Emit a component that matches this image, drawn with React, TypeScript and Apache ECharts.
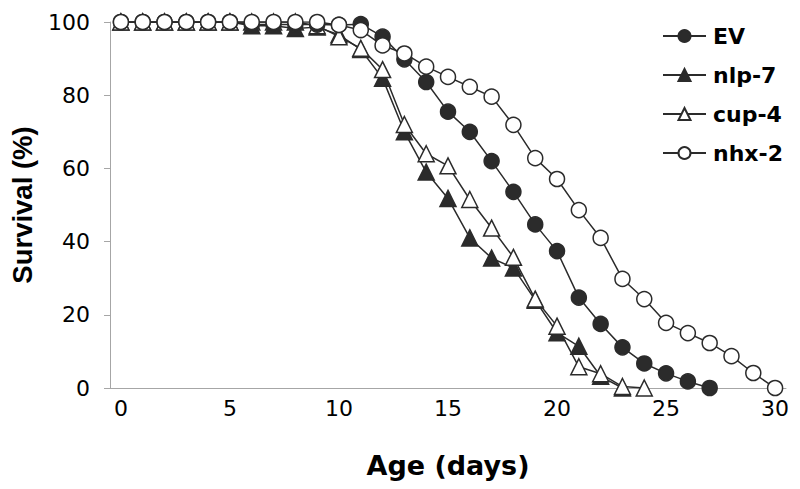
import React, { useEffect, useRef } from "react";
import * as echarts from "echarts";

const days: string[] = Array.from({ length: 31 }, (_, i) => String(i));

const evValues: number[] = [
  100, 100, 100, 100, 100, 100, 99.3, 99.3, 99.3, 99.3, 99.2, 99.4, 96, 89.8,
  83.6, 75.5, 70, 62, 53.6, 44.7, 37.4, 24.7, 17.5, 11.1, 6.7, 4, 1.8, 0,
];
const nlp7Values: number[] = [
  100, 100, 100, 100, 100, 100, 99, 99, 98.2, 98.6, 96.5, 92.5, 84.6, 70, 59,
  51.8, 41, 35.5, 32.8, 24, 15.1, 11.4, 3.2, 0,
];
const cup4Values: number[] = [
  100, 100, 100, 100, 100, 100, 100, 100, 100, 99, 96, 92.8, 87, 72, 64, 60.7,
  51.5, 43.7, 35.7, 24.3, 16.9, 5.8, 3.9, 0.4, 0,
];
const nhx2Values: number[] = [
  100, 100, 100, 100, 100, 100, 100, 100, 100, 100, 99.2, 97.8, 93.6, 91.4,
  87.8, 85, 82.3, 79.6, 71.9, 62.8, 57.1, 48.6, 41, 29.8, 24.3, 17.8, 15, 12.3,
  8.7, 4.1, 0,
];

const seriesNames = ["EV", "nlp-7", "cup-4", "nhx-2"];
const yTicks = { min: 0, max: 100, interval: 20 };

const LINE = "#2b2b2b";
const AXIS = "#a6a6a6";
const WIDE = "'DejaVu Sans', sans-serif";
const ARIAL = "'Liberation Sans', Arial, sans-serif";

export default function App() {
  const ref = useRef<HTMLDivElement>(null);
  useEffect(() => {
    if (!ref.current) return;
    const chart = echarts.init(ref.current, null, { renderer: "svg" });
    const mk = (
      name: string,
      data: number[],
      symbol: string,
      filled: boolean,
      size: number
    ) => ({
      name,
      type: "line",
      data,
      symbol,
      symbolSize: size,
      showAllSymbol: true,
      lineStyle: { color: LINE, width: 1.5 },
      itemStyle: {
        color: filled ? LINE : "#ffffff",
        borderColor: LINE,
        borderWidth: 1.5,
      },
      emphasis: { disabled: true },
    });
    chart.setOption({
      animation: false,
      backgroundColor: "#ffffff",
      textStyle: { fontFamily: WIDE },
      grid: { left: 110, right: 14, top: 22, bottom: 101 },
      legend: {
        orient: "vertical",
        left: 662,
        top: 25,
        padding: 0,
        itemWidth: 43,
        itemHeight: 15,
        itemGap: 17,
        data: seriesNames,
        textStyle: {
          fontFamily: WIDE,
          fontSize: 22,
          lineHeight: 22,
          fontWeight: "bold",
          color: "#000",
          padding: [0, 0, 0, 2],
        },
      },
      xAxis: {
        type: "category",
        data: days,
        boundaryGap: true,
        name: "Age (days)",
        nameLocation: "middle",
        nameGap: 64,
        nameTextStyle: {
          fontFamily: WIDE,
          fontSize: 27,
          fontWeight: "bold",
          color: "#000",
        },
        axisLine: { lineStyle: { color: AXIS, width: 1 } },
        axisTick: { interval: 0, length: 7, lineStyle: { color: AXIS } },
        axisLabel: {
          interval: 4,
          margin: 9,
          fontFamily: WIDE,
          fontSize: 22,
          color: "#000",
        },
        splitLine: { show: false },
      },
      yAxis: {
        type: "value",
        min: yTicks.min,
        max: yTicks.max,
        interval: yTicks.interval,
        name: "Survival (%)",
        nameLocation: "middle",
        nameGap: 74,
        nameTextStyle: {
          fontFamily: ARIAL,
          fontSize: 27.5,
          fontWeight: "bold",
          color: "#000",
        },
        axisLine: { show: true, lineStyle: { color: AXIS, width: 1 } },
        axisTick: { show: true, length: 6, lineStyle: { color: AXIS } },
        axisLabel: {
          margin: 20,
          fontFamily: WIDE,
          fontSize: 22,
          color: "#000",
        },
        splitLine: { show: false },
      },
      series: [
        mk("nlp-7", nlp7Values, "triangle", true, 16),
        mk("cup-4", cup4Values, "triangle", false, 16),
        mk("EV", evValues, "circle", true, 15),
        mk("nhx-2", nhx2Values, "circle", false, 15),
      ],
    });
    return () => chart.dispose();
  }, []);
  return <div ref={ref} style={{ width: 800, height: 489, position: "absolute", left: 0, top: 0 }} />;
}
